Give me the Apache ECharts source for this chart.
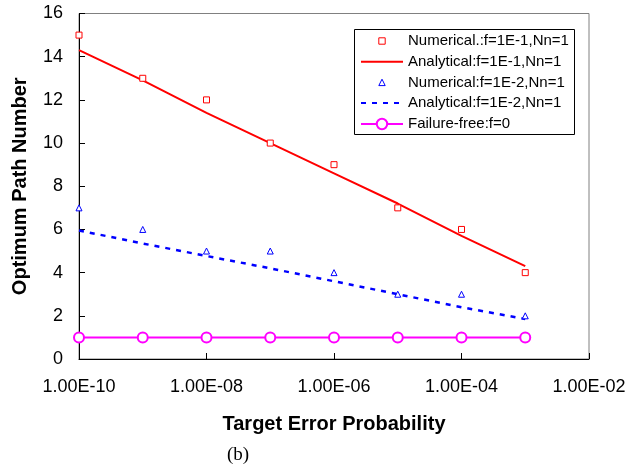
<!DOCTYPE html>
<html>
<head>
<meta charset="utf-8">
<script src="https://cdn.jsdelivr.net/npm/echarts@6/dist/echarts.min.js"></script>
<style>
  html, body { margin: 0; padding: 0; background: #fff; }
  #main { width: 641px; height: 468px; }
</style>
</head>
<body>
<div id="main"></div>
<script>
// target error probabilities (x)
const probs = [1e-10, 1e-9, 1e-8, 1e-7, 1e-6, 1e-5, 1e-4, 1e-3]
// optimum path numbers (y)
const numF1 = [15, 13, 12, 10, 9, 7, 6, 4]
const anaF1 = [14.3, 12.9, 11.4, 10.0, 8.6, 7.2, 5.7, 4.3]
const numF2 = [7, 6, 5, 5, 4, 3, 3, 2]
const anaF2 = [5.95, 5.35, 4.77, 4.2, 3.6, 3.0, 2.4, 1.85]
const failFree = [1, 1, 1, 1, 1, 1, 1, 1]

const names = [
    'Numerical.:f=1E-1,Nn=1',
    'Analytical:f=1E-1,Nn=1',
    'Numerical:f=1E-2,Nn=1',
    'Analytical:f=1E-2,Nn=1',
    'Failure-free:f=0'
]

const sans = 'Liberation Sans, Arial, sans-serif'

function pairs(ys) {
    return probs.map((p, i) => [p, ys[i]])
}

function sciLabel(v) {
    let s = v.toExponential(2).toUpperCase()
    let [m, e] = s.split('E')
    let digits = e.replace(/[+-]/, '')
    if (digits.length < 2) digits = '0' + digits
    return m + 'E' + (e[0] === '-' ? '-' : '') + digits
}

const chart = echarts.init(document.getElementById('main'))

const noDot = { color: 'transparent', borderColor: 'transparent', borderWidth: 0 }

const option = {
    animation: false,
    grid: {
        left: 79, right: 52, top: 13.5, bottom: 109,
        show: true, borderColor: '#808080', borderWidth: 1
    },
    xAxis: {
        type: 'log',
        logBase: 10,
        min: 1e-10,
        max: 1e-2,
        interval: 2,
        name: 'Target Error Probability',
        nameLocation: 'middle',
        nameGap: 55,
        nameTextStyle: { fontFamily: sans, fontSize: 20, fontWeight: 'bold', color: '#000' },
        axisLine: { lineStyle: { color: '#000', width: 1 } },
        axisTick: { inside: true, length: 6, lineStyle: { color: '#000' } },
        axisLabel: {
            fontFamily: sans, fontSize: 18, color: '#000', margin: 19,
            formatter: sciLabel
        },
        splitLine: { show: false },
        minorTick: { show: false }
    },
    yAxis: {
        type: 'value',
        min: 0,
        max: 16,
        interval: 2,
        name: 'Optimum Path Number',
        nameLocation: 'middle',
        nameGap: 49,
        nameTextStyle: { fontFamily: sans, fontSize: 20, fontWeight: 'bold', color: '#000' },
        axisLine: { show: true, lineStyle: { color: '#000', width: 1 } },
        axisTick: { show: true, inside: true, length: 6, lineStyle: { color: '#000' } },
        axisLabel: { fontFamily: sans, fontSize: 18, color: '#000', margin: 16 },
        splitLine: { show: false }
    },
    legend: [
        {
            data: [
                { name: names[0], itemStyle: { borderWidth: 1 } },
                { name: names[1], itemStyle: noDot },
                { name: names[2], itemStyle: { borderWidth: 1 } },
                { name: names[3], itemStyle: noDot }
            ],
            orient: 'vertical',
            left: 360,
            top: 33.5,
            padding: 0,
            itemWidth: 42,
            itemHeight: 8,
            itemGap: 5.7,
            textStyle: { fontFamily: sans, fontSize: 15, color: '#000' },
            selectedMode: false
        },
        {
            data: [{ name: names[4], itemStyle: { borderWidth: 1.5 } }],
            orient: 'vertical',
            left: 360,
            top: 116.5,
            padding: 0,
            itemWidth: 42,
            itemHeight: 13,
            textStyle: { fontFamily: sans, fontSize: 15, color: '#000' },
            selectedMode: false
        }
    ],
    graphic: [
        {
            type: 'rect',
            shape: { x: 354.5, y: 29.5, width: 220, height: 105 },
            style: { fill: 'none', stroke: '#000', lineWidth: 1 },
            z: 100
        },
        {
            type: 'text',
            left: 227,
            top: 446,
            style: { text: '(b)', fontFamily: 'Liberation Serif, Times New Roman, serif', fontSize: 19, fill: '#000' }
        }
    ],
    series: [
        {
            name: names[0],
            type: 'line',
            data: pairs(numF1),
            color: '#ff0000',
            symbol: 'rect',
            symbolSize: 6,
            itemStyle: { color: '#fff', borderColor: '#ff0000', borderWidth: 1 },
            lineStyle: { opacity: 0, width: 0 },
            z: 5
        },
        {
            name: names[1],
            type: 'line',
            data: pairs(anaF1),
            color: '#ff0000',
            symbol: 'none',
            lineStyle: { width: 2, color: '#ff0000' }
        },
        {
            name: names[2],
            type: 'line',
            data: pairs(numF2),
            color: '#0000ff',
            symbol: 'triangle',
            symbolSize: 6,
            itemStyle: { color: '#fff', borderColor: '#0000ff', borderWidth: 1 },
            lineStyle: { opacity: 0, width: 0 },
            z: 5
        },
        {
            name: names[3],
            type: 'line',
            data: pairs(anaF2),
            color: '#0000ff',
            symbol: 'none',
            lineStyle: { width: 2.5, color: '#0000ff', type: [5, 6] }
        },
        {
            name: names[4],
            type: 'line',
            data: pairs(failFree),
            color: '#ff00ff',
            symbol: 'emptyCircle',
            symbolSize: 10,
            itemStyle: { borderWidth: 1.5 },
            lineStyle: { width: 2, color: '#ff00ff' }
        }
    ]
}

chart.setOption(option)
</script>
</body>
</html>
